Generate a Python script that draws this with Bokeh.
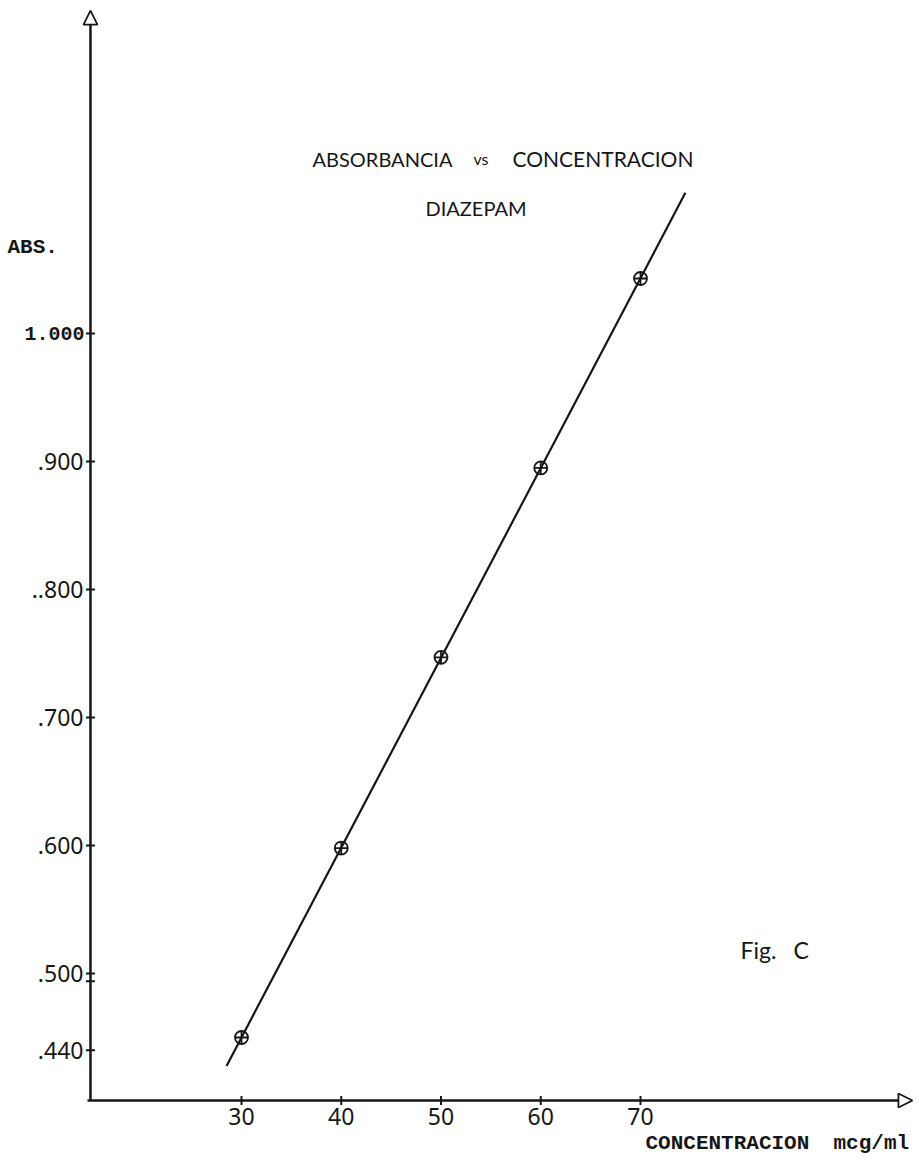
import math
from bokeh.plotting import figure
from bokeh.models import Label, Arrow, NormalHead, ColumnDataSource
from bokeh.core.properties import value
from bokeh.embed import file_html
from bokeh.resources import INLINE
import numpy as np

# Calibration data: diazepam absorbance vs concentration
concentration = [30, 40, 50, 60, 70]            # mcg/ml
absorbance = [0.450, 0.598, 0.747, 0.895, 1.043]

x_ticks = [30, 40, 50, 60, 70]
x_tick_labels = ["30", "40", "50", "60", "70"]
y_ticks = [0.44, 0.5, 0.6, 0.7, 0.8, 0.9, 1.0]
y_tick_labels = [".440", ".500", ".600", ".700", "..800", ".900", "1.000"]
y_extra_tick = [0.494]

fit_x_span = [28.5, 74.5]

INK = "#161616"

# the plotting area spans the whole page; the axes are drawn inside it
X0, Y0 = 14.86, 0.4008          # axis origin
X_TIP, Y_TIP = 97.26, 1.2523    # arrow tips of the axes

p = figure(width=919, height=1167, output_backend="svg", toolbar_location=None,
           x_range=(5.84, 97.97), y_range=(0.34844, 1.2602),
           x_axis_type=None, y_axis_type=None, min_border=0, title=None)
p.outline_line_color = None
p.grid.visible = False
p.background_fill_color = "white"
p.border_fill_color = "white"

# axis lines with open arrow heads
p.line([X0, X0], [Y0, Y_TIP - 0.011], line_color=INK, line_width=2.5)
p.line([X0 - 0.3, X_TIP - 1.4], [Y0, Y0], line_color=INK, line_width=2.5)
p.add_layout(Arrow(end=NormalHead(size=14, fill_color="white", line_color=INK, line_width=1.8),
                   x_start=X0, y_start=Y_TIP - 0.011, x_end=X0, y_end=Y_TIP,
                   line_color=INK, line_width=2.5))
p.add_layout(Arrow(end=NormalHead(size=14, fill_color="white", line_color=INK, line_width=1.8),
                   x_start=X_TIP - 1.4, y_start=Y0, x_end=X_TIP, y_end=Y0,
                   line_color=INK, line_width=2.5))

# tick marks
p.scatter([X0] * len(y_ticks + y_extra_tick), y_ticks + y_extra_tick, marker="dash",
          size=9, line_color=INK, line_width=2)
p.scatter(x_ticks, [Y0] * len(x_ticks), marker="dash", angle=math.pi / 2,
          size=9, line_color=INK, line_width=2)

# tick labels
tick_font = value("Noto Sans")
typed = value("Liberation Mono")
y_plain = [(t, s) for t, s in zip(y_ticks, y_tick_labels) if t != 1.0]
p.text([X0] * len(y_plain), [t for t, _ in y_plain], text=[s for _, s in y_plain],
       text_font=tick_font, text_font_size="23px", text_color=INK,
       text_align="right", text_baseline="middle", x_offset=-7)
y_bold = [(t, s) for t, s in zip(y_ticks, y_tick_labels) if t == 1.0]
p.text([X0] * len(y_bold), [t for t, _ in y_bold], text=[s for _, s in y_bold],
       text_font=typed, text_font_style="bold", text_font_size="20px", text_color=INK,
       text_align="right", text_baseline="middle", x_offset=-6)
p.text(x_ticks, [Y0] * len(x_ticks), text=x_tick_labels,
       text_font=tick_font, text_font_size="23px", text_color=INK,
       text_align="center", text_baseline="middle", y_offset=16)

# least-squares calibration line
slope, intercept = np.polyfit(concentration, absorbance, 1)
fit_y = [slope * x + intercept for x in fit_x_span]
p.line(fit_x_span, fit_y, line_color=INK, line_width=2.2)

src = ColumnDataSource(dict(x=concentration, y=absorbance))
p.scatter("x", "y", source=src, marker="circle_cross", size=13,
          line_color=INK, line_width=1.8, fill_color="white", fill_alpha=0.0)

# axis titles
p.add_layout(Label(x=6.54, y=1.0672, text="ABS.", text_font="Liberation Mono",
                   text_font_style="bold", text_font_size="21px", text_align="left",
                   text_baseline="middle", text_color=INK))
p.add_layout(Label(x=70.5, y=0.3672, text="CONCENTRACION", text_font="Liberation Mono",
                   text_font_style="bold", text_font_size="21px", text_align="left",
                   text_baseline="middle", text_color=INK))
p.add_layout(Label(x=89.35, y=0.3672, text="mcg/ml", text_font="Liberation Mono",
                   text_font_style="bold", text_font_size="21px", text_align="left",
                   text_baseline="middle", text_color=INK))

# chart heading
sans = "Lato"
p.add_layout(Label(x=37.12, y=1.1367, text="ABSORBANCIA", text_font=sans,
                   text_font_size="20px", text_align="left", text_baseline="alphabetic",
                   text_color=INK))
p.add_layout(Label(x=53.26, y=1.1367, text="vs", text_font=sans,
                   text_font_size="16px", text_align="left", text_baseline="alphabetic",
                   text_color=INK))
p.add_layout(Label(x=57.17, y=1.1367, text="CONCENTRACION", text_font=sans,
                   text_font_size="21px", text_align="left", text_baseline="alphabetic",
                   text_color=INK))
p.add_layout(Label(x=48.44, y=1.0984, text="DIAZEPAM", text_font=sans,
                   text_font_size="20px", text_align="left", text_baseline="alphabetic",
                   text_color=INK))
p.add_layout(Label(x=80.02, y=0.5180, text="Fig.", text_font=sans,
                   text_font_size="23px", text_align="left", text_baseline="alphabetic",
                   text_color=INK))
p.add_layout(Label(x=85.33, y=0.5180, text="C", text_font=sans,
                   text_font_size="23px", text_align="left", text_baseline="alphabetic",
                   text_color=INK))

open("out.html", "w").write(file_html(p, INLINE))
